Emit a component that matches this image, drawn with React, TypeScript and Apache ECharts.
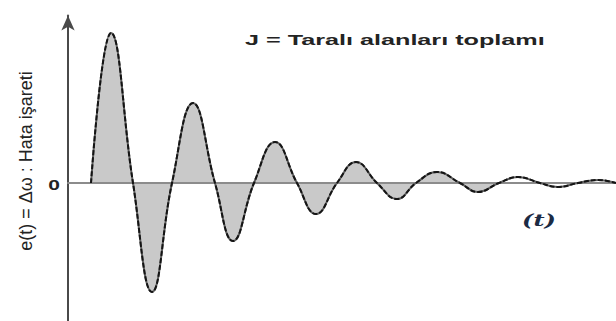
import React, { useEffect, useRef } from "react";
import * as echarts from "echarts";

// Damped error signal e(t): zero crossings, peaks and troughs of the response
const tValues = [2.3, 4.3, 6.5, 8.4, 10.4, 12.5, 14.7, 16.5, 18.6, 20.7, 22.9, 24.8, 26.9, 28.8, 30.9, 32.9, 34.8, 36.9, 39.2, 41.0, 43.1, 45.0, 47.2, 49.0, 51.0, 53.0, 54.8];
const eValues = [0, 15.0, 0, -10.9, 0, 8.0, 0, -5.8, 0, 4.1, 0, -3.1, 0, 2.1, 0, -1.6, 0, 1.1, 0, -0.9, 0, 0.6, 0, -0.4, 0, 0.3, 0];
// Number of leading points whose area to the time axis is shaded
const shadedCount = 21;

const titleText = "J = Taralı alanları toplamı";
const yAxisTitle = "e(t) = Δω : Hata işareti";
const zeroLabel = "0";
const timeLabel = "(t)";

export default function App() {
  const ref = useRef<HTMLDivElement>(null);

  useEffect(() => {
    if (!ref.current) return;
    const chart = echarts.init(ref.current, undefined, { renderer: "svg" });
    const curve = tValues.map((t, i) => [t, eValues[i]]);
    const shaded = curve.slice(0, shadedCount);

    chart.setOption({
      animation: false,
      backgroundColor: "#ffffff",
      grid: { left: 68, right: 0, top: 15.5, bottom: 0 },
      xAxis: {
        type: "value",
        min: 0,
        max: 54.8,
        z: 2,
        axisLine: { show: true, onZero: true, lineStyle: { color: "#8c8c8c", width: 2 } },
        axisTick: { show: false },
        axisLabel: { show: false },
        splitLine: { show: false },
      },
      yAxis: {
        type: "value",
        min: -13.8,
        max: 16.75,
        z: 2,
        axisLine: {
          show: true,
          onZero: false,
          symbol: ["none", "arrow"],
          symbolSize: [10, 15],
          lineStyle: { color: "#4a4a4a", width: 2 },
        },
        axisTick: { show: false },
        axisLabel: { show: false },
        splitLine: { show: false },
      },
      series: [
        {
          type: "line",
          data: shaded,
          smooth: 0.45,
          showSymbol: false,
          z: 1,
          lineStyle: { width: 0 },
          areaStyle: { color: "#c9c9c9", opacity: 1 },
        },
        {
          type: "line",
          data: curve,
          smooth: 0.45,
          showSymbol: false,
          z: 3,
          lineStyle: { color: "#5e5e5e", width: 2 },
        },
        {
          type: "line",
          data: curve,
          smooth: 0.45,
          showSymbol: false,
          z: 4,
          lineStyle: { color: "#141414", width: 2, type: [5, 2] },
        },
      ],
      graphic: [
        {
          type: "text",
          x: 245,
          y: 40,
          scaleX: 1.68,
          style: {
            text: titleText,
            font: 'bold 15px "Liberation Sans"',
            fill: "#232323",
            textAlign: "left",
            textVerticalAlign: "middle",
            align: "left",
            verticalAlign: "middle",
          },
        },
        {
          type: "text",
          x: 26,
          y: 161,
          rotation: Math.PI / 2,
          style: {
            text: yAxisTitle,
            font: '18px "Liberation Sans"',
            fill: "#232323",
            textAlign: "center",
            textVerticalAlign: "middle",
            align: "center",
            verticalAlign: "middle",
          },
        },
        {
          type: "text",
          x: 54,
          y: 185,
          scaleX: 1.4,
          style: {
            text: zeroLabel,
            font: 'bold 15px "Liberation Sans"',
            fill: "#232323",
            textAlign: "center",
            textVerticalAlign: "middle",
            align: "center",
            verticalAlign: "middle",
          },
        },
        {
          type: "text",
          x: 539,
          y: 221,
          scaleX: 1.5,
          style: {
            text: timeLabel,
            font: 'italic bold 16px "DejaVu Serif"',
            fill: "#1c2b44",
            textAlign: "center",
            textVerticalAlign: "middle",
            align: "center",
            verticalAlign: "middle",
          },
        },
      ],
    });

    return () => chart.dispose();
  }, []);

  return (
    <div
      ref={ref}
      style={{ position: "absolute", left: 0, top: 0, width: 616, height: 321 }}
    />
  );
}
